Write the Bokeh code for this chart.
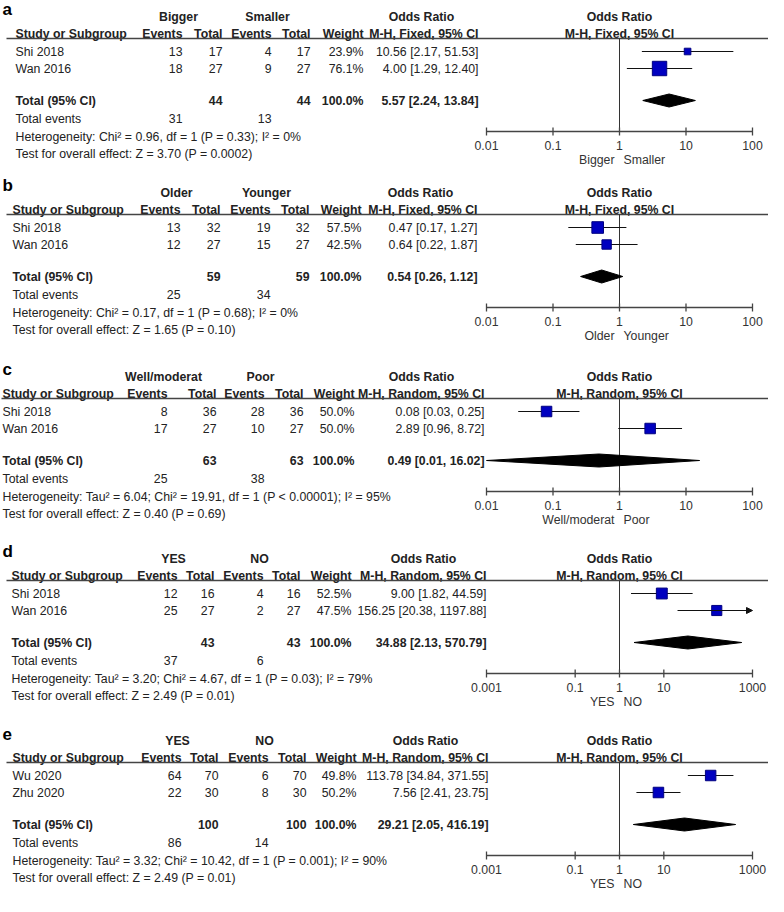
import math
from bokeh.plotting import figure
from bokeh.models import Range1d, LogScale, Arrow, NormalHead
from bokeh.core.properties import value
from bokeh.embed import file_html
from bokeh.resources import INLINE

# ---------------- data ----------------
panel_letters = ["a", "b", "c", "d", "e"]
group_labels = [["Bigger", "Smaller"], ["Older", "Younger"], ["Well/moderat", "Poor"],
                ["YES", "NO"], ["YES", "NO"]]
study_names = [["Shi 2018", "Wan 2016"], ["Shi 2018", "Wan 2016"], ["Shi 2018", "Wan 2016"],
               ["Shi 2018", "Wan 2016"], ["Wu 2020", "Zhu 2020"]]
events_1 = [[13, 18], [13, 12], [8, 17], [12, 25], [64, 22]]
totals_1 = [[17, 27], [32, 27], [36, 27], [16, 27], [70, 30]]
events_2 = [[4, 9], [19, 15], [28, 10], [4, 2], [6, 8]]
totals_2 = [[17, 27], [32, 27], [36, 27], [16, 27], [70, 30]]
weights = [[23.9, 76.1], [57.5, 42.5], [50.0, 50.0], [52.5, 47.5], [49.8, 50.2]]
odds_ratio = [[10.56, 4.00], [0.47, 0.64], [0.08, 2.89], [9.00, 156.25], [113.78, 7.56]]
ci_low = [[2.17, 1.29], [0.17, 0.22], [0.03, 0.96], [1.82, 20.38], [34.84, 2.41]]
ci_high = [[51.53, 12.40], [1.27, 1.87], [0.25, 8.72], [44.59, 1197.88], [371.55, 23.75]]
pooled_n1 = [44, 59, 63, 43, 100]
pooled_n2 = [44, 59, 63, 43, 100]
pooled_or = [5.57, 0.54, 0.49, 34.88, 29.21]
pooled_low = [2.24, 0.26, 0.01, 2.13, 2.05]
pooled_high = [13.84, 1.12, 16.02, 570.79, 416.19]
total_events_1 = [31, 25, 25, 37, 86]
total_events_2 = [13, 34, 38, 6, 14]
methods = ["M-H, Fixed, 95% CI", "M-H, Fixed, 95% CI", "M-H, Random, 95% CI",
           "M-H, Random, 95% CI", "M-H, Random, 95% CI"]
heterogeneity = [
    "Heterogeneity: Chi\u00b2 = 0.96, df = 1 (P = 0.33); I\u00b2 = 0%",
    "Heterogeneity: Chi\u00b2 = 0.17, df = 1 (P = 0.68); I\u00b2 = 0%",
    "Heterogeneity: Tau\u00b2 = 6.04; Chi\u00b2 = 19.91, df = 1 (P < 0.00001); I\u00b2 = 95%",
    "Heterogeneity: Tau\u00b2 = 3.20; Chi\u00b2 = 4.67, df = 1 (P = 0.03); I\u00b2 = 79%",
    "Heterogeneity: Tau\u00b2 = 3.32; Chi\u00b2 = 10.42, df = 1 (P = 0.001); I\u00b2 = 90%",
]
overall_effect = [
    "Test for overall effect: Z = 3.70 (P = 0.0002)",
    "Test for overall effect: Z = 1.65 (P = 0.10)",
    "Test for overall effect: Z = 0.40 (P = 0.69)",
    "Test for overall effect: Z = 2.49 (P = 0.01)",
    "Test for overall effect: Z = 2.49 (P = 0.01)",
]
axis_ticks = [[0.01, 0.1, 1, 10, 100], [0.01, 0.1, 1, 10, 100], [0.01, 0.1, 1, 10, 100],
              [0.001, 0.1, 1, 10, 1000], [0.001, 0.1, 1, 10, 1000]]

# ---------------- layout ----------------
FONT = "Liberation Sans"
FS = 12.3
W, H = 768, 896
PANEL_H = [176, 184, 182, 182, 172]
tops = [sum(PANEL_H[:k]) for k in range(5)]
XS, XE = 486, 752          # page x of first / last axis tick
LETTER_X = 2
STUDY_X = [15, 12, 2, 11, 12]
LINE_X0 = [6, 6, 1, 6, 6]
COLS = [[182, 222, 271, 310, 363, 478],
        [180, 220, 270, 309, 361, 477],
        [167, 216, 264, 303, 354, 484],
        [177, 214, 263, 300, 351, 486],
        [181, 218, 268, 306, 356, 488]]
OFF_LETTER, OFF_GROUP, OFF_HDR, OFF_LINE = 9, 16, 33, 38
OFF_ROWS = [51, 68]
OFF_TOTAL, OFF_TE, OFF_HET, OFF_TEST = 100, 118, 136, 153
OFF_AXIS = 131


def log_range(ticks):
    a, b = math.log10(ticks[0]), math.log10(ticks[-1])
    ppd = (XE - XS) / (b - a)
    return Range1d(start=10 ** (a - XS / ppd), end=10 ** (b + (W - XE) / ppd))


extra_ranges = {f"or{k}": log_range(axis_ticks[k]) for k in range(5)}
extra_scales = {f"or{k}": LogScale() for k in range(5)}

p = figure(width=W, height=H, x_range=Range1d(0, W), y_range=Range1d(H, 0),
           extra_x_ranges=extra_ranges, extra_x_scales=extra_scales,
           output_backend="svg", toolbar_location=None,
           x_axis_location=None, y_axis_location=None, min_border=0,
           outline_line_color=None, background_fill_color="white",
           border_fill_color="white")
p.xgrid.visible = False
p.ygrid.visible = False

TXT = "#222222"


def txt(xs, ys, texts, align="left", bold=False, size=FS, color=TXT, rn=None, xoff=0):
    kw = {}
    if rn:
        kw["x_range_name"] = rn
    p.text(x=xs, y=ys, text=texts, text_font=value(FONT), text_font_size=f"{size}px",
           text_font_style="bold" if bold else "normal", text_align=align,
           text_baseline="middle", text_color=color, x_offset=xoff, **kw)


for k in range(5):
    top = tops[k]
    rn = f"or{k}"
    c = COLS[k]
    ticks = axis_ticks[k]

    def Y(off):
        return top + off

    # panel letter
    txt([LETTER_X], [Y(OFF_LETTER)], [panel_letters[k]], bold=True, size=17, color="#000000")

    # group headers
    txt([c[0] - 4, c[2] - 4], [Y(OFF_GROUP)] * 2, group_labels[k], align="center", bold=True)
    mw = 57 if "Fixed" in methods[k] else 63
    txt([c[5] - mw], [Y(OFF_GROUP)], ["Odds Ratio"], align="center", bold=True)

    # column headers
    txt([STUDY_X[k]], [Y(OFF_HDR)], ["Study or Subgroup"], bold=True)
    txt(c[:5], [Y(OFF_HDR)] * 5, ["Events", "Total", "Events", "Total", "Weight"],
        align="right", bold=True)
    txt([c[5]], [Y(OFF_HDR)], [methods[k]], align="right", bold=True)

    # forest headers
    txt([1, 1], [Y(OFF_GROUP), Y(OFF_HDR)], ["Odds Ratio", methods[k]], align="center",
        bold=True, rn=rn)

    # header rule
    p.segment(x0=[LINE_X0[k]], x1=[W], y0=[Y(OFF_LINE)], y1=[Y(OFF_LINE)],
              line_color="#444444", line_width=1.3)

    # study rows
    ys = [Y(o) for o in OFF_ROWS]
    txt([STUDY_X[k]] * 2, ys, study_names[k])
    for col, vals in zip(c[:4], [events_1[k], totals_1[k], events_2[k], totals_2[k]]):
        txt([col] * 2, ys, [str(v) for v in vals], align="right")
    txt([c[4]] * 2, ys, [f"{w:.1f}%" for w in weights[k]], align="right")
    txt([c[5]] * 2, ys, [f"{o:.2f} [{l:.2f}, {h:.2f}]"
                         for o, l, h in zip(odds_ratio[k], ci_low[k], ci_high[k])], align="right")

    # total row
    yt = Y(OFF_TOTAL)
    txt([STUDY_X[k]], [yt], ["Total (95% CI)"], bold=True)
    txt([c[1], c[3]], [yt] * 2, [str(pooled_n1[k]), str(pooled_n2[k])], align="right", bold=True)
    txt([c[4]], [yt], [f"{sum(weights[k]):.1f}%"], align="right", bold=True)
    txt([c[5]], [yt], [f"{pooled_or[k]:.2f} [{pooled_low[k]:.2f}, {pooled_high[k]:.2f}]"],
        align="right", bold=True)

    # total events, heterogeneity, overall effect
    txt([STUDY_X[k]], [Y(OFF_TE)], ["Total events"])
    txt([c[0], c[2]], [Y(OFF_TE)] * 2, [str(total_events_1[k]), str(total_events_2[k])],
        align="right")
    txt([STUDY_X[k]], [Y(OFF_HET)], [heterogeneity[k]])
    txt([STUDY_X[k]], [Y(OFF_TEST)], [overall_effect[k]])

    # ----- forest plot -----
    ya = Y(OFF_AXIS)
    p.segment(x0=[1], x1=[1], y0=[Y(OFF_LINE)], y1=[ya], x_range_name=rn,
              line_color="#333333", line_width=1)

    for o, l, h, yy in zip(odds_ratio[k], ci_low[k], ci_high[k], ys):
        if h > ticks[-1]:
            p.add_layout(Arrow(end=NormalHead(size=6, fill_color="#111111", line_color="#111111"),
                               x_start=l, y_start=yy, x_end=ticks[-1], y_end=yy,
                               x_range_name=rn, line_color="#111111", line_width=1))
        else:
            p.segment(x0=[l], x1=[h], y0=[yy], y1=[yy], x_range_name=rn,
                      line_color="#111111", line_width=1)
    p.scatter(x=odds_ratio[k], y=ys, size=[3 + 0.15 * w for w in weights[k]], marker="square",
              fill_color="#0000C0", line_color="#000080", line_width=1, x_range_name=rn)

    p.patch(x=[pooled_low[k], pooled_or[k], pooled_high[k], pooled_or[k]],
            y=[yt, yt - 6.5, yt, yt + 6.5], x_range_name=rn,
            fill_color="#000000", line_color="#000000")

    # axis
    p.segment(x0=[ticks[0]], x1=[ticks[-1]], y0=[ya], y1=[ya], x_range_name=rn,
              line_color="#444444", line_width=1.3)
    p.segment(x0=ticks, x1=ticks, y0=[ya - 4] * len(ticks), y1=[ya + 4] * len(ticks),
              x_range_name=rn, line_color="#444444", line_width=1.3)
    txt(ticks, [ya + 14] * len(ticks), [f"{t:g}" for t in ticks], align="center",
        color="#333333", rn=rn)
    txt([1], [ya + 28], [group_labels[k][0]], align="right", color="#333333", rn=rn, xoff=-5)
    txt([1], [ya + 28], [group_labels[k][1]], align="left", color="#333333", rn=rn, xoff=4)

open("out.html", "w").write(file_html(p, INLINE))
